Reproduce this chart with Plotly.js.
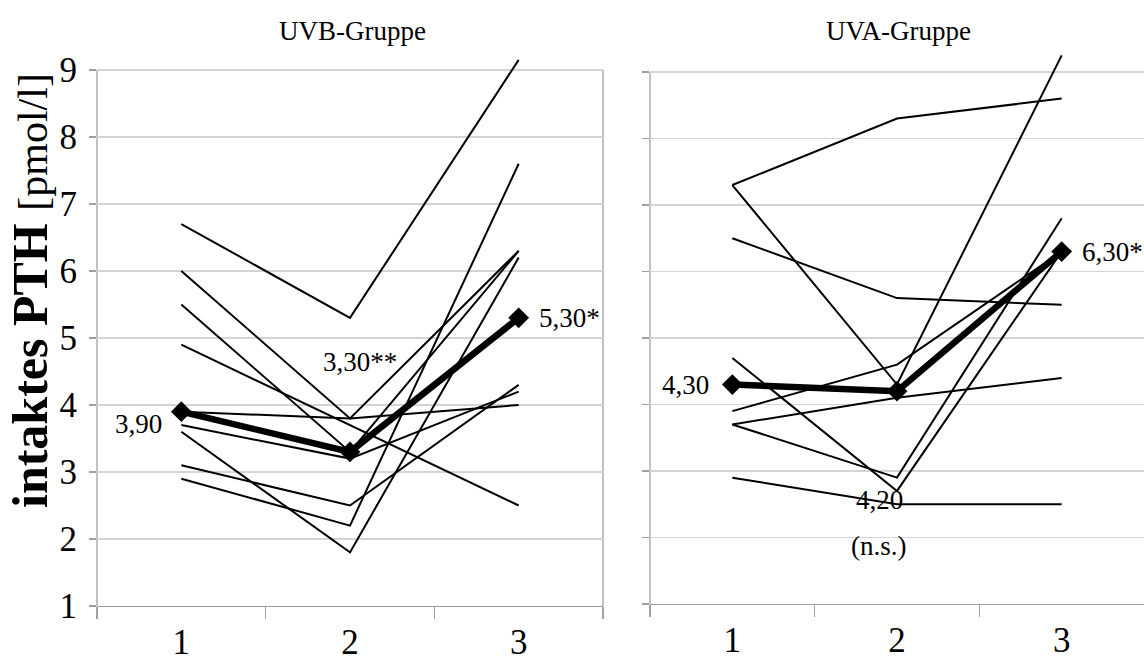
<!DOCTYPE html>
<html><head><meta charset="utf-8">
<script src="https://cdn.plot.ly/plotly-3.0.1.min.js"></script>
<style>html,body{margin:0;padding:0;background:#fff}#chart{width:1144px;height:669px}</style>
</head><body><div id="chart"></div>
<script>
// ---- data ----
const timepoints = ['1', '2', '3'];
const yTickValues = [1, 2, 3, 4, 5, 6, 7, 8, 9];
const panelTitles = ['UVB-Gruppe', 'UVA-Gruppe'];
const yTitleBold = 'intaktes PTH';
const yTitleUnit = '[pmol/l]';

// UVB group: individual patients (values at time 1, 2, 3)
const uvbP1 = [6.7, 5.3, 9.15];
const uvbP2 = [6.0, 3.8, 6.3];
const uvbP3 = [5.5, 3.3, 6.3];
const uvbP4 = [4.9, 3.7, 2.5];
const uvbP5 = [3.9, 3.8, 4.0];
const uvbP6 = [3.7, 3.2, 4.2];
const uvbP7 = [3.6, 1.8, 6.2];
const uvbP8 = [3.1, 2.5, 4.3];
const uvbP9 = [2.9, 2.2, 7.6];
const uvbMean = [3.9, 3.3, 5.3];
const uvbMarks = ['', '**', '*'];

// UVA group
const uvaP1 = [7.3, 8.3, 8.6];
const uvaP2 = [7.3, 4.3, 9.25];
const uvaP3 = [6.5, 5.6, 5.5];
const uvaP4 = [4.7, 2.7, 6.3];
const uvaP5 = [3.9, 4.6, 6.3];
const uvaP6 = [3.7, 4.1, 4.4];
const uvaP7 = [3.7, 2.9, 6.8];
const uvaP8 = [2.9, 2.5, 2.5];
const uvaMean = [4.3, 4.2, 6.3];
const uvaMarks = ['', '', '*'];
const uvaNote = '(n.s.)';

// ---- styling ----
const FONT = 'Liberation Serif, Times New Roman, serif';
const GRID = '#d4d4d4';
const AXIS = '#a0a0a0';
const W = 1144, H = 669;
const px = v => v / W;
const py = v => 1 - v / H;

const uvb = [uvbP1, uvbP2, uvbP3, uvbP4, uvbP5, uvbP6, uvbP7, uvbP8, uvbP9];
const uva = [uvaP1, uvaP2, uvaP3, uvaP4, uvaP5, uvaP6, uvaP7, uvaP8];

const traces = [];
function addPanel(patients, mean, xa, ya) {
  patients.forEach(p => traces.push({
    x: timepoints, y: p, xaxis: xa, yaxis: ya, type: 'scatter', mode: 'lines',
    line: {color: '#000', width: 2}, hoverinfo: 'skip', showlegend: false
  }));
  traces.push({
    x: timepoints, y: mean, xaxis: xa, yaxis: ya, type: 'scatter', mode: 'lines+markers',
    line: {color: '#000', width: 6.5}, marker: {symbol: 'diamond', size: 16, color: '#000'},
    hoverinfo: 'skip', showlegend: false, cliponaxis: false
  });
}
addPanel(uvb, uvbMean, 'x', 'y');
addPanel(uva, uvaMean, 'x2', 'y2');

const fmt = v => v.toFixed(2).replace('.', ',');

const xBase = {
  type: 'category', categoryorder: 'array', categoryarray: timepoints,
  range: [-0.5, 2.5], fixedrange: true,
  showgrid: false, zeroline: false, showline: true, linecolor: AXIS, linewidth: 1.3,
  ticks: 'outside', tickson: 'boundaries', ticklen: 12, tickcolor: AXIS, tickwidth: 1.3,
  tickfont: {family: FONT, size: 35, color: '#000'}, ticklabelstandoff: 5
};
const yBase = {
  range: [1, 9.35], tickmode: 'array', tickvals: yTickValues, ticktext: yTickValues.map(String),
  showgrid: true, gridcolor: GRID, gridwidth: 1.3, zeroline: false, showline: false,
  ticks: 'outside', ticklen: 7, tickcolor: AXIS, tickwidth: 1.3, fixedrange: true,
  tickfont: {family: FONT, size: 35, color: '#000'}, ticklabelstandoff: 5
};

const annFont = {family: FONT, size: 27, color: '#000'};
const titleFont = {family: FONT, size: 27, color: '#000'};

const layout = {
  width: W, height: H, margin: {l: 0, r: 0, t: 0, b: 0},
  paper_bgcolor: '#fff', plot_bgcolor: '#fff', showlegend: false,
  xaxis: Object.assign({}, xBase, {domain: [px(97), px(603)], anchor: 'y'}),
  yaxis: Object.assign({}, yBase, {domain: [py(606), py(46.5)], anchor: 'x'}),
  xaxis2: Object.assign({}, xBase, {domain: [px(650), 1], anchor: 'y2'}),
  yaxis2: Object.assign({}, yBase, {domain: [py(604), py(48.7)], anchor: 'x2', showticklabels: false}),
  shapes: [
    {type: 'line', xref: 'x domain', yref: 'y', x0: 0, x1: 0, y0: 1, y1: 9, line: {color: AXIS, width: 1.3}, layer: 'below'},
    {type: 'line', xref: 'x domain', yref: 'y', x0: 1, x1: 1, y0: 1, y1: 9, line: {color: AXIS, width: 1.3}, layer: 'below'},
    {type: 'line', xref: 'x2 domain', yref: 'y2', x0: 0, x1: 0, y0: 1, y1: 9, line: {color: AXIS, width: 1.3}, layer: 'below'}
  ],
  annotations: [
    {xref: 'paper', yref: 'paper', x: px(352), y: py(31), text: panelTitles[0], showarrow: false,
     font: titleFont, xanchor: 'center', yanchor: 'middle'},
    {xref: 'paper', yref: 'paper', x: px(898), y: py(31), text: panelTitles[1], showarrow: false,
     font: titleFont, xanchor: 'center', yanchor: 'middle'},
    {xref: 'paper', yref: 'paper', x: px(30), y: py(291), textangle: -90, showarrow: false,
     text: '<b>' + yTitleBold + '</b> <span style="font-size:42px">' + yTitleUnit + '</span>',
     font: {family: FONT, size: 50, color: '#000'}, xanchor: 'center', yanchor: 'middle'},
    // UVB mean labels
    {xref: 'x', yref: 'y', x: 0, y: uvbMean[0], text: fmt(uvbMean[0]) + uvbMarks[0], showarrow: false,
     xanchor: 'right', yanchor: 'middle', xshift: -17, yshift: -12, font: annFont},
    {xref: 'x', yref: 'y', x: 1, y: uvbMean[1], text: fmt(uvbMean[1]) + uvbMarks[1], showarrow: false,
     xanchor: 'center', yanchor: 'middle', xshift: 10, yshift: 90, font: annFont},
    {xref: 'x', yref: 'y', x: 2, y: uvbMean[2], text: fmt(uvbMean[2]) + uvbMarks[2], showarrow: false,
     xanchor: 'left', yanchor: 'middle', xshift: 18, yshift: 0, font: annFont},
    // UVA mean labels
    {xref: 'x2', yref: 'y2', x: 0, y: uvaMean[0], text: fmt(uvaMean[0]) + uvaMarks[0], showarrow: false,
     xanchor: 'right', yanchor: 'middle', xshift: -21, yshift: 0, font: annFont},
    {xref: 'x2', yref: 'y2', x: 1, y: uvaMean[1], text: fmt(uvaMean[1]) + uvaMarks[1], showarrow: false,
     xanchor: 'center', yanchor: 'middle', xshift: -18, yshift: -109, font: annFont},
    {xref: 'x2', yref: 'y2', x: 1, y: uvaMean[1], text: uvaNote, showarrow: false,
     xanchor: 'center', yanchor: 'middle', xshift: -18, yshift: -155, font: annFont},
    {xref: 'x2', yref: 'y2', x: 2, y: uvaMean[2], text: fmt(uvaMean[2]) + uvaMarks[2], showarrow: false,
     xanchor: 'left', yanchor: 'middle', xshift: 18, yshift: 0, font: annFont}
  ]
};

Plotly.newPlot('chart', traces, layout, {staticPlot: true, displayModeBar: false});
</script>
</body></html>
